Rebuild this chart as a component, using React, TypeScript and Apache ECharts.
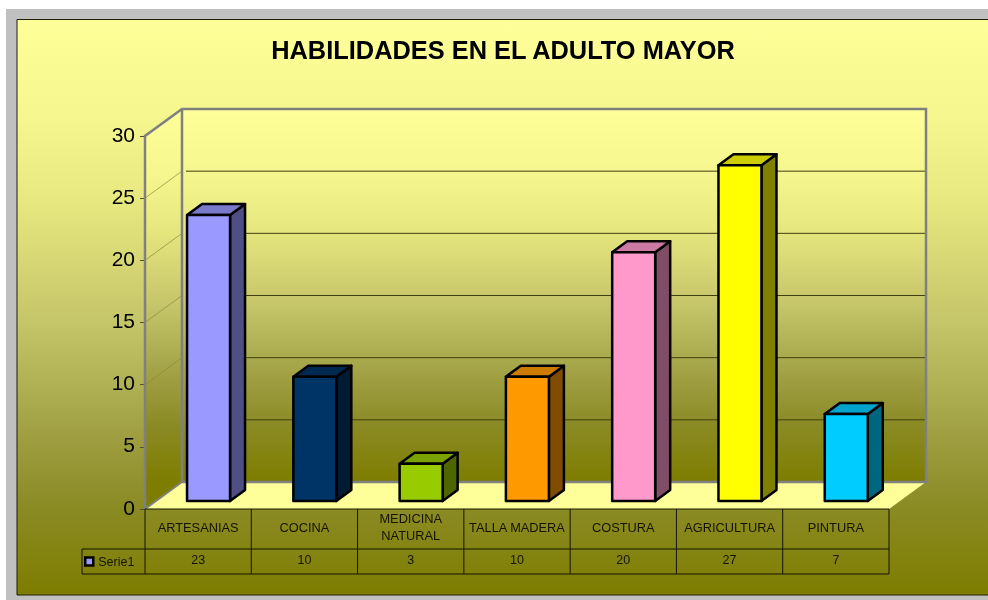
import React, { useEffect, useRef } from "react";
import * as echarts from "echarts";

const titleText = "HABILIDADES EN EL ADULTO MAYOR";
const categories = ["ARTESANIAS", "COCINA", "MEDICINA\nNATURAL", "TALLA MADERA", "COSTURA", "AGRICULTURA", "PINTURA"];
const values = [23, 10, 3, 10, 20, 27, 7];
const seriesName = "Serie1";
const frontColors = ["#9999FF", "#003366", "#99CC00", "#FF9900", "#FF99CC", "#FFFF00", "#00CCFF"];
const topColors = ["#7A7ACC", "#002952", "#7AA300", "#CC7A00", "#CC7AA3", "#CCCC00", "#00A3CC"];
const sideColors = ["#4F4F85", "#001A33", "#4D6600", "#804D00", "#804D66", "#808000", "#006680"];
const gridValues = [5, 10, 15, 20, 25, 30];

const DX = 37;
const DY = -27;
const BAR_W = 43;
const BAR_OFF_X = 10.4;
const BAR_OFF_Y = -8;
const SIDE_X = 15;
const SIDE_Y = -11;
const wallGradient = (y0: number, y1: number) => ({
  type: "linear", global: true, x: 0, y: y0, x2: 0, y2: y1,
  colorStops: [
    { offset: 0, color: "#FFFF99" },
    { offset: 0.175, color: "#F6F68F" },
    { offset: 0.314, color: "#E8E880" },
    { offset: 0.52, color: "#C6C66A" },
    { offset: 0.7, color: "#A3A347" },
    { offset: 0.835, color: "#8C8C28" },
    { offset: 1, color: "#7D7D00" },
  ],
});

export default function App() {
  const ref = useRef<HTMLDivElement>(null);
  useEffect(() => {
    const chart = echarts.init(ref.current!, null, { renderer: "svg" });

    const renderWalls = (params: any, api: any) => {
      const g = params.coordSys;
      const L = g.x, R = g.x + g.width;
      const base = api.coord([0, 0])[1];
      const top = api.coord([0, 30])[1];
      const children: any[] = [];
      const wall = wallGradient(top + DY, base + DY);
      children.push({ type: "polygon", shape: { points: [[L, top], [L + DX, top + DY], [L + DX, base + DY], [L, base]] }, style: { fill: wall } });
      children.push({ type: "rect", shape: { x: L + DX, y: top + DY, width: g.width, height: base - top }, style: { fill: wall } });
      children.push({ type: "polygon", shape: { points: [[L, base], [L + DX, base + DY], [R + DX, base + DY], [R, base]] }, style: { fill: "#FFFF99" } });
      gridValues.slice(0, -1).forEach((v) => {
        const y = api.coord([0, v])[1];
        children.push({ type: "line", shape: { x1: L, y1: y, x2: L + DX, y2: y + DY }, style: { stroke: "#8A8A3C", lineWidth: 0.7 } });
        children.push({ type: "line", shape: { x1: L + DX + 4, y1: y + DY, x2: R + DX, y2: y + DY }, style: { stroke: "#3F3F10", lineWidth: 1 } });
      });
      children.push({ type: "polyline", shape: { points: [[L, base], [L, top], [L + DX, top + DY], [R + DX, top + DY], [R + DX, base + DY], [L + DX, base + DY]] }, style: { stroke: "#808080", lineWidth: 2.5, fill: "none" } });
      children.push({ type: "line", shape: { x1: L + DX, y1: base + DY, x2: L, y2: base }, style: { stroke: "#808080", lineWidth: 2 } });
      children.push({ type: "line", shape: { x1: L + DX, y1: top + DY, x2: L + DX, y2: base + DY }, style: { stroke: "#808080", lineWidth: 2.5 } });
      return { type: "group", children };
    };

    const renderBar = (params: any, api: any) => {
      const i = params.dataIndex;
      const [cx, y0] = api.coord([i, 0]);
      const yv = api.coord([i, api.value(1)])[1];
      const x0 = cx + BAR_OFF_X - BAR_W / 2, x1 = x0 + BAR_W;
      const b = y0 + BAR_OFF_Y, t = yv + BAR_OFF_Y;
      const line = { stroke: "#000", lineWidth: 2.5, lineJoin: "round" };
      return {
        type: "group",
        children: [
          { type: "polygon", shape: { points: [[x1, t], [x1 + SIDE_X, t + SIDE_Y], [x1 + SIDE_X, b + SIDE_Y], [x1, b]] }, style: { fill: sideColors[i], ...line } },
          { type: "polygon", shape: { points: [[x0, t], [x0 + SIDE_X, t + SIDE_Y], [x1 + SIDE_X, t + SIDE_Y], [x1, t]] }, style: { fill: topColors[i], ...line } },
          { type: "rect", shape: { x: x0, y: t, width: BAR_W, height: b - t }, style: { fill: frontColors[i], ...line } },
        ],
      };
    };

    const renderTable = (params: any, api: any) => {
      const g = params.coordSys;
      const L = g.x, R = g.x + g.width, y0 = g.y + g.height;
      const r1 = y0 + 40, r2 = y0 + 65;
      const stroke = { stroke: "#141400", lineWidth: 1 };
      const children: any[] = [];
      for (let k = 0; k <= categories.length; k++) {
        const x = L + (k * g.width) / categories.length;
        children.push({ type: "line", shape: { x1: x, y1: y0, x2: x, y2: r2 }, style: stroke });
      }
      [y0, r1, r2].forEach((y) => children.push({ type: "line", shape: { x1: L, y1: y, x2: R, y2: y }, style: stroke }));
      children.push({ type: "polyline", shape: { points: [[L, r1], [L - 63, r1], [L - 63, r2], [L, r2]] }, style: { ...stroke, fill: "none" } });
      return { type: "group", children };
    };

    chart.setOption({
      animation: false,
      title: {
        text: titleText, left: 498, top: 32, textAlign: "center",
        textStyle: { fontFamily: "Liberation Sans", fontSize: 25.4, fontWeight: "bold", color: "#000" },
      },
      legend: {
        left: 84, top: 555, itemWidth: 8, itemHeight: 8, itemGap: 1, padding: 0,
        data: [{ name: seriesName, icon: "rect", itemStyle: { color: frontColors[0], borderColor: "#000", borderWidth: 2.5 } }],
        textStyle: { fontFamily: "Liberation Sans", fontSize: 12.5, color: "#141400", padding: [0, 0, 0, 0] },
      },
      graphic: [
        { type: "rect", z: -20, silent: true, shape: { x: 6, y: 9, width: 982, height: 591 }, style: { fill: "#C0C0C0" } },
        { type: "rect", z: -19, silent: true, shape: { x: 17, y: 19.5, width: 980, height: 575.5 }, style: { fill: wallGradient(19, 595), stroke: "#1E1E00", lineWidth: 1 } },
      ],
      grid: { left: 145, right: 99, top: 136, bottom: 91 },
      xAxis: [
        {
          type: "category", data: categories, position: "bottom",
          axisLine: { show: false }, axisTick: { show: false },
          axisLabel: { interval: 0, margin: 18, verticalAlign: "middle", lineHeight: 17, fontFamily: "Liberation Sans", fontSize: 12.8, color: "#141400" },
        },
        {
          type: "category", data: values.map(String), position: "bottom", offset: 40,
          axisLine: { show: false }, axisTick: { show: false },
          axisLabel: { interval: 0, margin: 11, verticalAlign: "middle", fontFamily: "Liberation Sans", fontSize: 12.5, color: "#141400" },
        },
      ],
      yAxis: {
        type: "value", min: 0, max: 30, interval: 5,
        splitLine: { show: false }, axisLine: { show: false },
        axisTick: { show: true, length: 5, lineStyle: { color: "#505030", width: 1 } },
        axisLabel: { margin: 10, verticalAlign: "bottom", lineHeight: 4, fontFamily: "Liberation Sans", fontSize: 21, color: "#000" },
      },
      series: [
        { type: "custom", name: "walls", z: 1, silent: true, renderItem: renderWalls, data: [[0, 0]], encode: { x: 0, y: 1 } },
        { type: "custom", name: "table", z: 1, silent: true, renderItem: renderTable, data: [[0, 0]], encode: { x: 0, y: 1 } },
        { type: "custom", name: seriesName, z: 3, renderItem: renderBar, data: values.map((v, i) => [i, v]), encode: { x: 0, y: 1 } },
      ],
    });
    return () => chart.dispose();
  }, []);
  return <div ref={ref} style={{ position: "fixed", left: 0, top: 0, width: 988, height: 600 }} />;
}
